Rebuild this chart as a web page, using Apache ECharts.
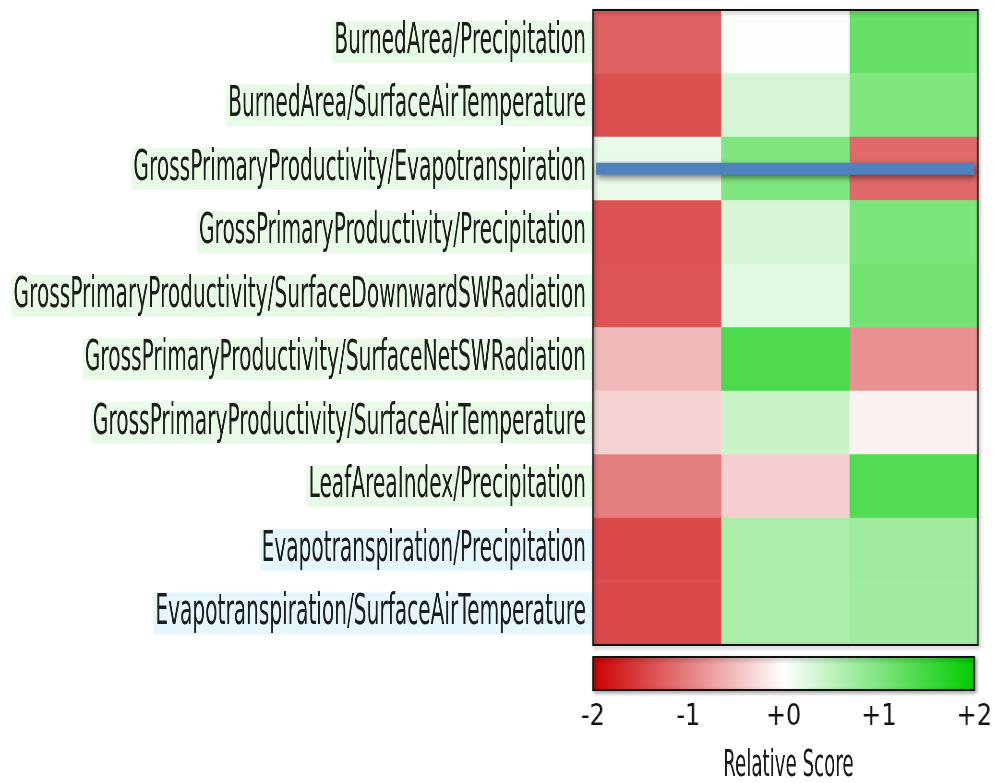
<!DOCTYPE html>
<html>
<head>
<meta charset="utf-8">
<script src="https://cdn.jsdelivr.net/npm/echarts@6/dist/echarts.min.js"></script>
<style>
html,body{margin:0;padding:0;overflow:hidden;background:#fff;width:994px;height:783px;}
#c1,#c2{position:absolute;left:0;top:0;height:783px;transform-origin:0 0;}
</style>
</head>
<body>
<div id="c1"></div>
<div id="c2"></div>
<script>
// ---- data ----
const rows = [
  'BurnedArea/Precipitation',
  'BurnedArea/SurfaceAirTemperature',
  'GrossPrimaryProductivity/Evapotranspiration',
  'GrossPrimaryProductivity/Precipitation',
  'GrossPrimaryProductivity/SurfaceDownwardSWRadiation',
  'GrossPrimaryProductivity/SurfaceNetSWRadiation',
  'GrossPrimaryProductivity/SurfaceAirTemperature',
  'LeafAreaIndex/Precipitation',
  'Evapotranspiration/Precipitation',
  'Evapotranspiration/SurfaceAirTemperature'
];
const rowGroups = ['g','g','g','g','g','g','g','g','b','b'];
const columns = ['Model 1', 'Model 2', 'Model 3'];
const col1Scores = [-1.23, -1.37, 0.18, -1.36, -1.34, -0.54, -0.35, -1.01, -1.42, -1.42];
const col2Scores = [0.03, 0.34, 1.00, 0.32, 0.23, 1.40, 0.43, -0.38, 0.67, 0.67];
const col3Scores = [1.20, 1.00, -1.18, 1.03, 1.09, -0.87, -0.10, 1.36, 0.75, 0.73];
const scoreTicks = [-2, -1, 0, 1, 2];
const scaleMin = -2, scaleMax = 2;
const palette = ['#cc0000', '#ffffff', '#00cc00'];
const highlightRow = 'GrossPrimaryProductivity/Evapotranspiration';
const highlightSpan = [0.008, 0.99];
const colorbarSpan = [-2, 2];
const axisTitle = 'Relative Score';

// ---- layout helpers (final page pixels -> container pixels) ----
const S1 = 0.48, S2 = 0.8, W = 994, H = 783;
const X1 = x => x / S1, X2 = x => x / S2;
const c1 = document.getElementById('c1');
const c2 = document.getElementById('c2');
c1.style.width = X1(W) + 'px'; c1.style.transform = 'scaleX(' + S1 + ')';
c2.style.width = X2(W) + 'px'; c2.style.transform = 'scaleX(' + S2 + ')';

const heatData = [];
[col1Scores, col2Scores, col3Scores].forEach((col, ci) => {
  col.forEach((v, ri) => heatData.push([ci, ri, v]));
});

const font = 'DejaVu Sans';
const chart1 = echarts.init(c1, null, {renderer: 'canvas'});
chart1.setOption({
  backgroundColor: '#ffffff',
  animation: false,
  title: {
    text: axisTitle, left: X1(786), top: 742, textAlign: 'center',
    textStyle: {fontFamily: font, fontSize: 38, fontWeight: 'normal', color: '#1a1a1a'}
  },
  grid: {left: X1(593), top: 10, width: X1(385), height: 635},
  xAxis: {type: 'category', data: columns, show: false},
  yAxis: {
    type: 'category', data: rows, inverse: true,
    axisLine: {show: false}, axisTick: {show: false}, splitLine: {show: false},
    axisLabel: {
      margin: X1(1),
      formatter: (v, i) => '{' + rowGroups[i] + '|' + v + '}',
      rich: {
        g: {backgroundColor: '#e8fbe6', padding: [0, X1(6), 0, X1(2)], lineHeight: 50,
            fontFamily: font, fontSize: 42, color: '#1c1c1c'},
        b: {backgroundColor: '#e5f6fd', padding: [0, X1(6), 0, X1(2)], lineHeight: 50,
            fontFamily: font, fontSize: 42, color: '#1c1c1c'}
      }
    }
  },
  visualMap: {show: false, type: 'continuous', min: scaleMin, max: scaleMax, dimension: 2,
    inRange: {color: palette}},
  series: [{
    type: 'heatmap', data: heatData, itemStyle: {borderWidth: 0},
    emphasis: {disabled: true}
  }]
});

const chart2 = echarts.init(c2, null, {renderer: 'canvas'});
chart2.setOption({
  animation: false,
  grid: [
    {left: X2(593), top: 10, width: X2(385), height: 635, show: true,
     borderColor: '#111', borderWidth: 2, backgroundColor: 'transparent',
     shadowColor: 'rgba(0,0,0,0.35)', shadowBlur: 4, shadowOffsetX: 2, shadowOffsetY: 2},
    {left: X2(593), top: 657, width: X2(385), height: 33}
  ],
  xAxis: [
    {gridIndex: 0, type: 'value', min: 0, max: 1, show: false},
    {gridIndex: 1, type: 'value', min: scaleMin, max: scaleMax, interval: 1,
     axisLine: {show: false}, axisTick: {show: false}, splitLine: {show: false},
     axisLabel: {margin: 12, fontFamily: font, fontSize: 30, color: '#111',
       formatter: v => (v >= 0 ? '+' + v : String(v))}}
  ],
  yAxis: [
    {gridIndex: 0, type: 'category', data: rows, inverse: true, show: false},
    {gridIndex: 1, type: 'value', min: 0, max: 1, show: false}
  ],
  series: [
    {
      type: 'line', xAxisIndex: 0, yAxisIndex: 0, symbol: 'none',
      data: [[highlightSpan[0], highlightRow], [highlightSpan[1], highlightRow]],
      lineStyle: {color: '#4f81bd', width: 12, cap: 'butt',
        shadowColor: 'rgba(0,0,0,0.5)', shadowBlur: 6, shadowOffsetX: 2, shadowOffsetY: 3},
      z: 5
    },
    {
      type: 'custom', xAxisIndex: 1, yAxisIndex: 1,
      data: [colorbarSpan],
      renderItem: (params, api) => {
        const p0 = api.coord([api.value(0), 1]);
        const p1 = api.coord([api.value(1), 0]);
        return {
          type: 'rect',
          shape: {x: p0[0], y: p0[1], width: p1[0] - p0[0], height: p1[1] - p0[1]},
          style: {
            fill: new echarts.graphic.LinearGradient(0, 0, 1, 0, palette.map((c, i) => ({offset: i / (palette.length - 1), color: c}))),
            stroke: '#111', lineWidth: 2,
            shadowColor: 'rgba(0,0,0,0.35)', shadowBlur: 4, shadowOffsetX: 2, shadowOffsetY: 2
          }
        };
      }
    }
  ]
});
</script>
</body>
</html>
